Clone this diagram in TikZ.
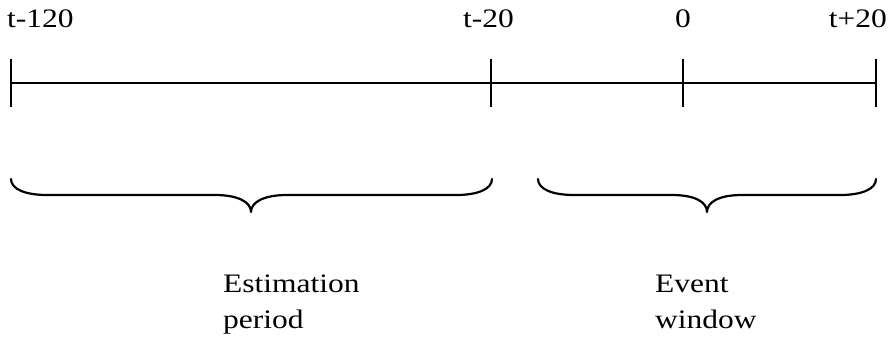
\documentclass[tikz,border=0pt]{standalone}
\usepackage{fontspec}
\setmainfont{Liberation Serif}[FakeStretch=1.18]
\begin{document}
\begin{tikzpicture}[x=1pt,y=-1pt,
  axis/.style={line width=2.6pt},
  tickmark/.style={line width=2.2pt},
  bracepath/.style={line width=2.2pt, line cap=round, line join=round},
  lbl/.style={inner sep=0pt, font=\fontsize{26.7}{36}\selectfont},
  caplabel/.style={lbl, align=left, anchor=base west}]
\useasboundingbox (0,0) rectangle (891,338);
% ticks
\coordinate (a) at (11,83);
\coordinate (b) at (491,83);
\coordinate (c) at (683,83);
\coordinate (d) at (876,83);
\draw[axis] (a) -- (d);
\foreach \p in {a,b,c,d} \draw[tickmark] ([yshift=-24]\p) -- ([yshift=24]\p);
% labels
\node[lbl, anchor=base west] (la) at (7,27) {t-120};
\node[lbl, anchor=base west] (lb) at (463,27) {t-20};
\node[lbl, anchor=base] (lc) at (683,27) {0};
\node[lbl, anchor=base east] (ld) at (887,27) {t+20};
% braces
\draw[bracepath] (11,179) .. controls (11,189) and (25,195) .. (47,195)
  -- (215,195) .. controls (238,195) and (251,202) .. (251,212)
  .. controls (251,202) and (264,195) .. (287,195)
  -- (456,195) .. controls (478,195) and (492,189) .. (492,179);
\draw[bracepath] (538,179) .. controls (538,189) and (552,195) .. (574,195)
  -- (672,195) .. controls (695,195) and (707,202) .. (707,212)
  .. controls (707,202) and (719,195) .. (742,195)
  -- (840,195) .. controls (862,195) and (876,189) .. (876,179);
% captions
\node[caplabel] (est) at (223,328) {Estimation\\period};
\node[caplabel] (evt) at (655,328) {Event\\window};
\end{tikzpicture}
\end{document}
